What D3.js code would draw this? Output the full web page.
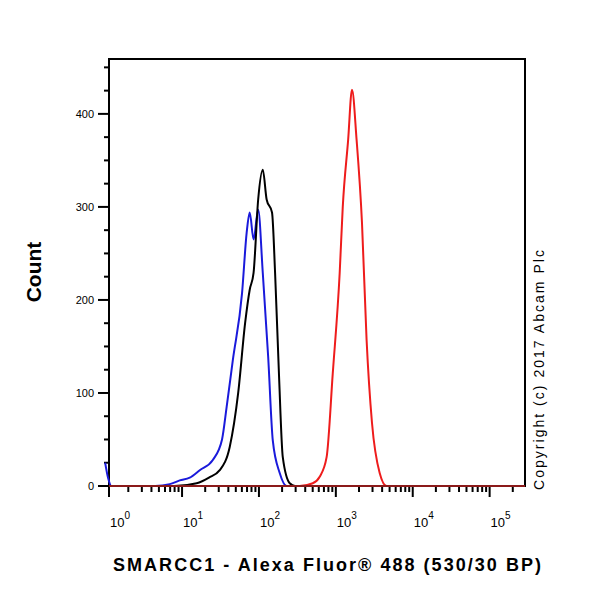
<!DOCTYPE html>
<html><head><meta charset="utf-8">
<script src="https://cdn.jsdelivr.net/npm/d3@7"></script>
<style>body{margin:0;background:#fff}</style></head>
<body><svg id="chart" width="600" height="600"></svg>
<script>
// log10 of intensity, and counts
var blueLog = [0.0, 0.04, 0.08, 0.65, 0.84, 0.97, 1.1, 1.23, 1.4, 1.52, 1.58, 1.66, 1.78, 1.84, 1.88, 1.93, 1.99, 2.05, 2.12, 2.18, 2.27, 2.36, 5.46];
var blueVal = [25, 8, 0, 0, 2, 6, 9, 17, 28, 50, 85, 135, 207, 272, 294, 265, 297, 229, 139, 49, 14, 0, 0];
var blackLog = [0.08, 0.9, 1.19, 1.35, 1.49, 1.62, 1.73, 1.82, 1.88, 1.93, 1.99, 2.05, 2.1, 2.17, 2.21, 2.26, 2.31, 2.4, 2.47, 5.46];
var blackVal = [0, 0, 3, 9, 17, 42, 100, 175, 211, 229, 308, 340, 308, 294, 229, 121, 31, 3, 0, 0];
var redLog = [0.08, 2.53, 2.7, 2.79, 2.88, 2.96, 3.05, 3.09, 3.16, 3.21, 3.27, 3.34, 3.4, 3.47, 3.57, 3.66, 5.46];
var redVal = [0, 0, 3, 10, 31, 121, 229, 300, 372, 426, 372, 283, 157, 68, 14, 0, 0];
var xTickExp = [0, 1, 2, 3, 4, 5];
var yTicks = [0, 100, 200, 300, 400];

var svg = d3.select("#chart");
var pLeft = 109, pRight = 525, pTop = 59, pBottom = 486;
var x = d3.scaleLinear().domain([0.05, 5.46]).range([pLeft, pRight]);
var y = d3.scaleLinear().domain([0, 459]).range([pBottom, pTop]);

svg.append("rect").attr("x", pLeft).attr("y", pTop)
    .attr("width", pRight - pLeft).attr("height", pBottom - pTop)
    .attr("fill", "none").attr("stroke", "#000").attr("stroke-width", 2);

// y ticks
var g = svg.append("g").attr("stroke", "#000").attr("stroke-width", 2);
d3.range(0, 460, 25).forEach(function (v) {
    var major = v % 100 === 0;
    g.append("line").attr("x1", major ? 98 : 104).attr("x2", pLeft)
        .attr("y1", y(v)).attr("y2", y(v));
});
svg.append("g").selectAll("text").data(yTicks).enter().append("text")
    .attr("x", 94).attr("y", function (d) { return y(d) + 4; })
    .attr("text-anchor", "end").attr("font-family", "Arial, Liberation Sans")
    .attr("font-size", 11).text(function (d) { return d; });

// x ticks
xTickExp.forEach(function (e) {
    g.append("line").attr("x1", Math.max(x(e), pLeft)).attr("x2", Math.max(x(e), pLeft))
        .attr("y1", pBottom).attr("y2", pBottom + 11);
    for (var m = 2; m < 10; m++) {
        var lv = e + Math.log10(m);
        if (lv > 5.46) break;
        g.append("line").attr("x1", x(lv)).attr("x2", x(lv))
            .attr("y1", pBottom).attr("y2", pBottom + 6);
    }
    var t = svg.append("text").attr("x", Math.max(x(e), pLeft) + 11).attr("y", 527)
        .attr("font-family", "Arial, Liberation Sans").attr("font-size", 13)
        .attr("text-anchor", "middle");
    t.append("tspan").text("10");
    t.append("tspan").attr("dy", -8).attr("font-size", 10).text(e);
});

var line = d3.line().x(function (d) { return x(d[0]); }).y(function (d) { return y(d[1]); })
    .curve(d3.curveMonotoneX);
function draw(lg, vals, col) {
    svg.append("path").datum(d3.zip(lg, vals)).attr("d", line)
        .attr("fill", "none").attr("stroke", col).attr("stroke-width", 2);
}
draw(blueLog, blueVal, "#1a1adb");
draw(blackLog, blackVal, "#000");
draw(redLog, redVal, "#ee1c1c");
svg.append("line").attr("x1", pLeft).attr("x2", pRight).attr("y1", pBottom).attr("y2", pBottom)
    .attr("stroke", "#8b1a1a").attr("stroke-width", 2);

svg.append("text").attr("transform", "translate(41,272) rotate(-90)")
    .attr("text-anchor", "middle").attr("font-family", "Arial, Liberation Sans")
    .attr("font-weight", "bold").attr("font-size", 21).text("Count");
svg.append("text").attr("x", 327).attr("y", 571).attr("text-anchor", "middle")
    .attr("font-family", "Arial, Liberation Sans").attr("font-weight", "bold")
    .attr("font-size", 18).attr("textLength", 428).text("SMARCC1 - Alexa Fluor® 488 (530/30 BP)");
svg.append("text").attr("transform", "translate(544,370) rotate(-90)")
    .attr("text-anchor", "middle").attr("font-family", "Arial, Liberation Sans")
    .attr("font-size", 14).attr("textLength", 240).text("Copyright (c) 2017 Abcam Plc");
</script></body></html>
